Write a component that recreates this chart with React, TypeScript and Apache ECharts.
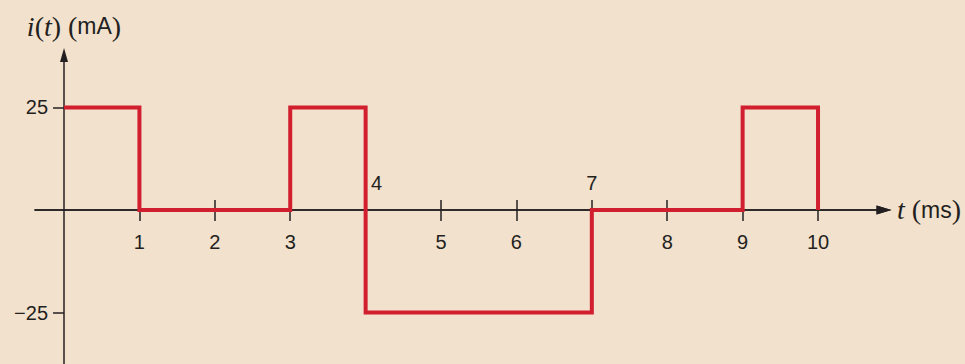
import React, { useEffect, useRef } from 'react';
import * as echarts from 'echarts';

const times = [0, 1, 1, 3, 3, 4, 4, 7, 7, 9, 9, 10, 10];
const current = [25, 25, 0, 0, 25, 25, -25, -25, 0, 0, 25, 25, 0];
const xTicks = [1, 2, 3, 4, 5, 6, 7, 8, 9, 10];
const xLabelsBelow = [1, 2, 3, 5, 6, 8, 9, 10];
const xLabelsAbove = [4, 7];
const yTicks = [25, -25];

const W = 965;
const H = 364;
const GRID = { left: 35, right: 81, top: 55, bottom: 0 };
const xMin = -0.385;
const xMax = 10.875;
const yMin = -37.56;
const yMax = 37.8;

export default function App() {
  const ref = useRef<HTMLDivElement>(null);
  useEffect(() => {
    const chart = echarts.init(ref.current!, null, { renderer: 'svg' });
    const axisColor = '#231f20';
    const sans = "'Liberation Sans', Arial, sans-serif";
    const serif = "'Liberation Serif', 'Times New Roman', serif";
    const gw = W - GRID.left - GRID.right;
    const gh = H - GRID.top - GRID.bottom;
    // place each axis at the other axis' zero through an offset from the grid edge
    const xAxisOffset = -((0 - yMin) / (yMax - yMin)) * gh;
    const yAxisOffset = -((0 - xMin) / (xMax - xMin)) * gw;
    const axisLine = {
      show: true,
      onZero: false,
      symbol: ['none', 'triangle'],
      symbolSize: [9, 15],
      lineStyle: { color: axisColor, width: 1.5 },
    };
    const nameRich = {
      it: { fontFamily: serif, fontStyle: 'italic', fontSize: 28, color: axisColor },
      p: { fontFamily: serif, fontSize: 28, color: axisColor },
      s: { fontFamily: sans, fontSize: 23, color: axisColor },
      gap: { width: 7 },
    };
    const labelFont = { fontFamily: sans, fontSize: 20, color: axisColor };
    chart.setOption({
      animation: false,
      backgroundColor: '#f2e1cd',
      grid: { ...GRID, containLabel: false, outerBoundsMode: 'none' },
      xAxis: [
        {
          type: 'value',
          min: xMin,
          max: xMax,
          position: 'bottom',
          offset: xAxisOffset,
          axisLine,
          splitLine: { show: false },
          axisTick: {
            show: true,
            customValues: xTicks,
            length: 11,
            inside: false,
            lineStyle: { color: axisColor, width: 1.5 },
          },
          axisLabel: {
            show: true,
            customValues: xLabelsBelow,
            margin: 22,
            ...labelFont,
          },
          name: '{it|t}{gap|}{p|(}{s|ms}{p|)}',
          nameLocation: 'end',
          nameGap: 13,
          nameTextStyle: { rich: nameRich, verticalAlign: 'middle' },
        },
        {
          type: 'value',
          min: xMin,
          max: xMax,
          position: 'bottom',
          offset: xAxisOffset,
          axisLine,
          splitLine: { show: false },
          axisTick: {
            show: true,
            customValues: xTicks,
            length: 10,
            inside: true,
            lineStyle: { color: axisColor, width: 1.5 },
          },
          axisLabel: {
            show: true,
            inside: true,
            customValues: xLabelsAbove,
            margin: 17,
            formatter: (v: number) => (v === 4 ? '{a|4}' : '{b|' + v + '}'),
            rich: {
              a: { ...labelFont, padding: [0, 0, 0, 22] },
              b: { ...labelFont },
            },
          },
        },
      ],
      yAxis: {
        type: 'value',
        min: yMin,
        max: yMax,
        position: 'left',
        offset: yAxisOffset,
        axisLine: { ...axisLine, symbolSize: [8, 14] },
        splitLine: { show: false },
        axisTick: {
          show: true,
          customValues: yTicks,
          length: 11,
          lineStyle: { color: axisColor, width: 1.5 },
        },
        axisLabel: {
          show: true,
          customValues: yTicks,
          margin: 16,
          ...labelFont,
          formatter: (v: number) => (v < 0 ? '\u2212' + Math.abs(v) : String(v)),
        },
        name: '{it|i}{p|(}{it|t}{p|)}{gap|}{p|(}{s|mA}{p|)}',
        nameLocation: 'end',
        nameGap: 15,
        nameTextStyle: { rich: nameRich, padding: [0, 0, 0, 20] },
      },
      series: [
        {
          type: 'line',
          data: times.map((t, i) => [t, current[i]]),
          showSymbol: false,
          symbol: 'none',
          clip: false,
          lineStyle: { color: '#d21f2f', width: 4, join: 'miter', cap: 'butt' },
          z: 5,
        },
      ],
    });
    return () => chart.dispose();
  }, []);
  return (
    <div
      ref={ref}
      style={{ position: 'fixed', left: 0, top: 0, width: W, height: H, background: '#f2e1cd' }}
    />
  );
}
